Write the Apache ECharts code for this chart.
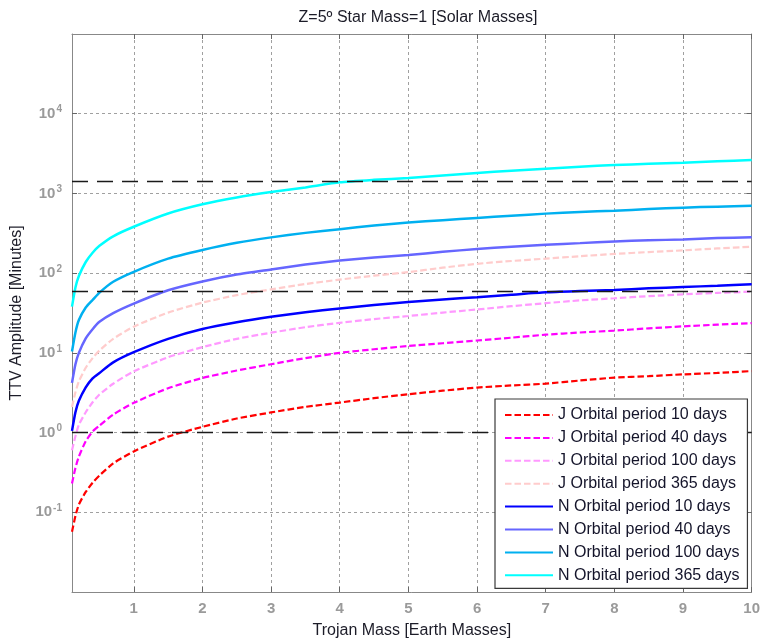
<!DOCTYPE html>
<html>
<head>
<meta charset="utf-8">
<script src="https://cdn.jsdelivr.net/npm/echarts@6.0.0/dist/echarts.min.js"></script>
<style>
  html, body { margin: 0; padding: 0; background: #fff; }
  #chart { width: 763px; height: 644px; }
</style>
</head>
<body>
<div id="chart"></div>
<script>
// Trojan mass grid [Earth masses]
const mass = [0.1, 0.15, 0.2, 0.3, 0.4, 0.5, 0.7, 1, 1.5, 2, 2.5, 3, 3.5, 4, 4.5, 5, 5.5, 6, 6.5, 7, 7.5, 8, 8.5, 9, 9.5, 10];

// TTV amplitude [minutes], J curves
const j10  = [0.057, 0.09, 0.125, 0.18, 0.235, 0.29, 0.41, 0.58, 0.89, 1.18, 1.5, 1.79, 2.1, 2.38, 2.7, 3.03, 3.35, 3.67, 3.9, 4.11, 4.5, 4.89, 5.1, 5.37, 5.6, 5.91];
const j40  = [0.23, 0.36, 0.5, 0.78, 1.03, 1.22, 1.68, 2.36, 3.6, 4.84, 6.0, 7.2, 8.6, 10.0, 11.1, 12.2, 13.2, 14.3, 15.5, 16.9, 18.0, 19.0, 20.3, 21.5, 22.6, 23.6];
const j100 = [0.6, 0.9, 1.25, 1.8, 2.4, 3.0, 4.1, 5.86, 8.8, 11.8, 15.0, 17.9, 21.0, 23.8, 26.5, 29.0, 32.0, 35.0, 38.5, 42.0, 45.5, 48.4, 51.5, 54.2, 56.5, 58.6];
const j365 = [2.1, 3.2, 4.4, 6.5, 8.6, 10.7, 15, 21.3, 32, 42.7, 53, 62.6, 73, 83, 93, 103, 117, 131, 142, 152, 163, 174, 184, 193, 204, 215];

// TTV amplitude [minutes], N curves
const n10  = [1.05, 1.8, 2.5, 3.7, 4.8, 5.6, 7.6, 10.2, 15, 19.9, 24.2, 28.3, 32.3, 36, 39.8, 43.5, 46.8, 50, 53.6, 57.4, 59.5, 61.4, 64.5, 67, 69.5, 72.3];
const n40  = [4.2, 7.2, 10.0, 15.2, 19.8, 24.5, 31.5, 41.5, 61, 78.7, 96, 111, 128, 144, 157, 169, 185, 201, 214, 227, 238, 250, 258, 265, 275, 283];
const n100 = [10.4, 18, 25.8, 37, 46, 57, 78, 104, 152, 195, 240, 281, 320, 356, 395, 431, 462, 493, 525, 558, 585, 608, 636, 663, 683, 702];
const n365 = [38, 66, 92, 138, 180, 220, 290, 382, 560, 730, 890, 1040, 1190, 1380, 1480, 1560, 1680, 1807, 1930, 2047, 2160, 2275, 2350, 2432, 2530, 2624];

// reference levels: 1 minute, 1 hour, 1 day
const levels = [1, 60, 1440];

// axis ticks
const massTicks = [1, 2, 3, 4, 5, 6, 7, 8, 9, 10];
const ttvTicks = [0.1, 1, 10, 100, 1000, 10000];

const FONT = '"Liberation Sans", Arial, sans-serif';
const DASH = [6.5, 3];

const seriesDefs = [
  { name: 'J Orbital period 10 days',  data: j10,  color: '#ff0000', dashed: true },
  { name: 'J Orbital period 40 days',  data: j40,  color: '#ff00ff', dashed: true },
  { name: 'J Orbital period 100 days', data: j100, color: '#ff99ff', dashed: true },
  { name: 'J Orbital period 365 days', data: j365, color: '#ffcccc', dashed: true },
  { name: 'N Orbital period 10 days',  data: n10,  color: '#0000ff', dashed: false },
  { name: 'N Orbital period 40 days',  data: n40,  color: '#6666ff', dashed: false },
  { name: 'N Orbital period 100 days', data: n100, color: '#00b0f0', dashed: false },
  { name: 'N Orbital period 365 days', data: n365, color: '#00ffff', dashed: false }
];

const series = seriesDefs.map(d => ({
  name: d.name,
  type: 'line',
  xAxisIndex: 0,
  yAxisIndex: 0,
  data: mass.map((m, i) => [m, d.data[i]]),
  symbol: 'none',
  smooth: 0.2,
  color: d.color,
  lineStyle: { color: d.color, width: d.dashed ? 2.2 : 2.5, type: d.dashed ? DASH : 'solid' },
  z: 3
}));

// black dashed reference levels
series.push({
  type: 'line',
  data: [],
  silent: true,
  markLine: {
    silent: true,
    symbol: 'none',
    label: { show: false },
    lineStyle: { color: '#1a1a1a', width: 1.3, type: [16, 9] },
    data: levels.map(v => ({ yAxis: v }))
  },
  z: 2
});

const tickStyle = { color: '#666', width: 1 };

const option = {
  animation: false,
  backgroundColor: '#ffffff',
  title: {
    text: 'Z=5º Star Mass=1 [Solar Masses]',
    left: 413,
    textAlign: 'center',
    top: 5,
    textStyle: { fontFamily: FONT, fontSize: 16, fontWeight: 'normal', color: '#1c1c28' }
  },
  grid: { left: 72, right: 9, top: 34, bottom: 48, containLabel: false },
  legend: {
    z: 20,
    orient: 'vertical',
    left: 495,
    top: 399,
    padding: [8, 8, 5, 9],
    itemWidth: 48,
    itemHeight: 16,
    itemGap: 6.9,
    backgroundColor: '#ffffff',
    borderColor: '#3a3a3a',
    borderWidth: 1.2,
    borderRadius: 0,
    itemStyle: { opacity: 0 },
    textStyle: { fontFamily: FONT, fontSize: 16, color: '#14142a', lineHeight: 16 },
    data: seriesDefs.map(d => d.name)
  },
  xAxis: [
    {
      type: 'value',
      min: 0.1,
      max: 10,
      name: 'Trojan Mass [Earth Masses]',
      nameLocation: 'middle',
      nameGap: 31,
      nameTextStyle: { fontFamily: FONT, fontSize: 16, color: '#1c1c28' },
      axisLine: { show: true, onZero: false, lineStyle: { color: '#888', width: 1 } },
      axisTick: { show: true, inside: true, length: 5, lineStyle: tickStyle, customValues: massTicks },
      axisLabel: {
        customValues: massTicks,
        margin: 9,
        fontFamily: FONT, fontSize: 15, fontWeight: 'bold', color: '#9a9a9a'
      },
      splitLine: { show: true, lineStyle: { color: '#a0a0a0', width: 1, type: [3, 3] } }
    },
    {
      type: 'value',
      position: 'top',
      min: 0.1,
      max: 10,
      axisLine: { show: true, onZero: false, lineStyle: { color: '#888', width: 1 } },
      axisTick: { show: true, inside: true, length: 5, lineStyle: tickStyle, customValues: massTicks },
      axisLabel: { show: false },
      splitLine: { show: false }
    }
  ],
  yAxis: [
    {
      type: 'log',
      logBase: 10,
      min: 0.01,
      max: 100000,
      name: 'TTV Amplitude [Minutes]',
      nameLocation: 'middle',
      nameGap: 35,
      nameTextStyle: { fontFamily: FONT, fontSize: 16, color: '#1c1c28' },
      axisLine: { show: true, lineStyle: { color: '#888', width: 1 } },
      axisTick: { show: true, inside: true, length: 5, lineStyle: tickStyle, customValues: ttvTicks },
      axisLabel: {
        customValues: ttvTicks,
        margin: 10,
        formatter: v => '{b|10}{e|' + Math.round(Math.log10(v)) + '}',
        rich: {
          b: { fontFamily: FONT, fontSize: 15, fontWeight: 'bold', color: '#9a9a9a', lineHeight: 18, verticalAlign: 'middle' },
          e: { fontFamily: FONT, fontSize: 10, fontWeight: 'bold', color: '#9a9a9a', lineHeight: 18, verticalAlign: 'top', padding: [0, 0, 8, 1] }
        }
      },
      splitLine: { show: true, lineStyle: { color: '#a0a0a0', width: 1, type: [3, 3] } }
    },
    {
      type: 'log',
      logBase: 10,
      min: 0.01,
      max: 100000,
      position: 'right',
      axisLine: { show: true, lineStyle: { color: '#888', width: 1 } },
      axisTick: { show: true, inside: true, length: 5, lineStyle: tickStyle, customValues: ttvTicks },
      axisLabel: { show: false },
      splitLine: { show: false }
    }
  ],
  series: series
};

const chart = echarts.init(document.getElementById('chart'), null, { renderer: 'canvas' });
chart.setOption(option);
</script>
</body>
</html>
